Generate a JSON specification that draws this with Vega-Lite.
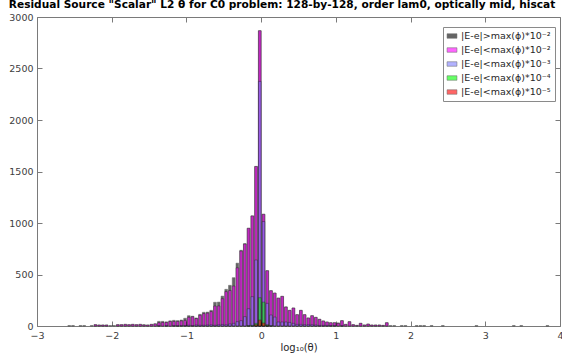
{
  "$schema": "https://vega.github.io/schema/vega-lite/v6.json",
  "width": 523,
  "height": 309,
  "autosize": {"type": "none"},
  "padding": {"left": 37, "top": 17, "right": 2, "bottom": 34},
  "background": "white",
  "title": {
    "text": "Residual Source \"Scalar\" L2 θ for C0 problem: 128-by-128, order lam0, optically mid, hiscat",
    "anchor": "start",
    "font": "DejaVu Sans",
    "fontSize": 10.6,
    "fontWeight": "bold",
    "color": "black",
    "offset": 1
  },
  "config": {
    "view": {"stroke": null},
    "font": "DejaVu Sans"
  },
  "datasets": {
    "bins": [
      {"x": -2.60, "x2": -2.55, "k": "|E-e|>max(ϕ)*10⁻²", "n": 5},
      {"x": -2.55, "x2": -2.50, "k": "|E-e|>max(ϕ)*10⁻²", "n": 5},
      {"x": -2.45, "x2": -2.40, "k": "|E-e|>max(ϕ)*10⁻²", "n": 5},
      {"x": -2.40, "x2": -2.35, "k": "|E-e|>max(ϕ)*10⁻²", "n": 5},
      {"x": -2.30, "x2": -2.25, "k": "|E-e|>max(ϕ)*10⁻²", "n": 5},
      {"x": -2.25, "x2": -2.20, "k": "|E-e|>max(ϕ)*10⁻²", "n": 13},
      {"x": -2.25, "x2": -2.20, "k": "|E-e|<max(ϕ)*10⁻²", "n": 13},
      {"x": -2.20, "x2": -2.15, "k": "|E-e|>max(ϕ)*10⁻²", "n": 10},
      {"x": -2.20, "x2": -2.15, "k": "|E-e|<max(ϕ)*10⁻²", "n": 10},
      {"x": -2.15, "x2": -2.10, "k": "|E-e|>max(ϕ)*10⁻²", "n": 10},
      {"x": -2.15, "x2": -2.10, "k": "|E-e|<max(ϕ)*10⁻²", "n": 10},
      {"x": -2.10, "x2": -2.05, "k": "|E-e|>max(ϕ)*10⁻²", "n": 10},
      {"x": -2.10, "x2": -2.05, "k": "|E-e|<max(ϕ)*10⁻²", "n": 10},
      {"x": -2.05, "x2": -2.00, "k": "|E-e|>max(ϕ)*10⁻²", "n": 5},
      {"x": -2.00, "x2": -1.95, "k": "|E-e|>max(ϕ)*10⁻²", "n": 5},
      {"x": -1.95, "x2": -1.90, "k": "|E-e|>max(ϕ)*10⁻²", "n": 13},
      {"x": -1.95, "x2": -1.90, "k": "|E-e|<max(ϕ)*10⁻²", "n": 13},
      {"x": -1.90, "x2": -1.85, "k": "|E-e|>max(ϕ)*10⁻²", "n": 13},
      {"x": -1.90, "x2": -1.85, "k": "|E-e|<max(ϕ)*10⁻²", "n": 13},
      {"x": -1.85, "x2": -1.80, "k": "|E-e|>max(ϕ)*10⁻²", "n": 16},
      {"x": -1.85, "x2": -1.80, "k": "|E-e|<max(ϕ)*10⁻²", "n": 16},
      {"x": -1.80, "x2": -1.75, "k": "|E-e|>max(ϕ)*10⁻²", "n": 13},
      {"x": -1.80, "x2": -1.75, "k": "|E-e|<max(ϕ)*10⁻²", "n": 13},
      {"x": -1.75, "x2": -1.70, "k": "|E-e|>max(ϕ)*10⁻²", "n": 16},
      {"x": -1.75, "x2": -1.70, "k": "|E-e|<max(ϕ)*10⁻²", "n": 16},
      {"x": -1.70, "x2": -1.65, "k": "|E-e|>max(ϕ)*10⁻²", "n": 13},
      {"x": -1.70, "x2": -1.65, "k": "|E-e|<max(ϕ)*10⁻²", "n": 13},
      {"x": -1.65, "x2": -1.60, "k": "|E-e|>max(ϕ)*10⁻²", "n": 16},
      {"x": -1.65, "x2": -1.60, "k": "|E-e|<max(ϕ)*10⁻²", "n": 16},
      {"x": -1.60, "x2": -1.55, "k": "|E-e|>max(ϕ)*10⁻²", "n": 13},
      {"x": -1.60, "x2": -1.55, "k": "|E-e|<max(ϕ)*10⁻²", "n": 10},
      {"x": -1.55, "x2": -1.50, "k": "|E-e|>max(ϕ)*10⁻²", "n": 10},
      {"x": -1.55, "x2": -1.50, "k": "|E-e|<max(ϕ)*10⁻²", "n": 10},
      {"x": -1.50, "x2": -1.45, "k": "|E-e|>max(ϕ)*10⁻²", "n": 16},
      {"x": -1.50, "x2": -1.45, "k": "|E-e|<max(ϕ)*10⁻²", "n": 16},
      {"x": -1.45, "x2": -1.40, "k": "|E-e|>max(ϕ)*10⁻²", "n": 22},
      {"x": -1.45, "x2": -1.40, "k": "|E-e|<max(ϕ)*10⁻²", "n": 20},
      {"x": -1.40, "x2": -1.35, "k": "|E-e|>max(ϕ)*10⁻²", "n": 45},
      {"x": -1.40, "x2": -1.35, "k": "|E-e|<max(ϕ)*10⁻²", "n": 32},
      {"x": -1.40, "x2": -1.35, "k": "|E-e|<max(ϕ)*10⁻³", "n": 3},
      {"x": -1.35, "x2": -1.30, "k": "|E-e|>max(ϕ)*10⁻²", "n": 45},
      {"x": -1.35, "x2": -1.30, "k": "|E-e|<max(ϕ)*10⁻²", "n": 35},
      {"x": -1.30, "x2": -1.25, "k": "|E-e|>max(ϕ)*10⁻²", "n": 40},
      {"x": -1.30, "x2": -1.25, "k": "|E-e|<max(ϕ)*10⁻²", "n": 35},
      {"x": -1.30, "x2": -1.25, "k": "|E-e|<max(ϕ)*10⁻³", "n": 5},
      {"x": -1.25, "x2": -1.20, "k": "|E-e|>max(ϕ)*10⁻²", "n": 50},
      {"x": -1.25, "x2": -1.20, "k": "|E-e|<max(ϕ)*10⁻²", "n": 45},
      {"x": -1.20, "x2": -1.15, "k": "|E-e|>max(ϕ)*10⁻²", "n": 55},
      {"x": -1.20, "x2": -1.15, "k": "|E-e|<max(ϕ)*10⁻²", "n": 45},
      {"x": -1.20, "x2": -1.15, "k": "|E-e|<max(ϕ)*10⁻³", "n": 5},
      {"x": -1.15, "x2": -1.10, "k": "|E-e|>max(ϕ)*10⁻²", "n": 52},
      {"x": -1.15, "x2": -1.10, "k": "|E-e|<max(ϕ)*10⁻²", "n": 45},
      {"x": -1.15, "x2": -1.10, "k": "|E-e|<max(ϕ)*10⁻³", "n": 3},
      {"x": -1.10, "x2": -1.05, "k": "|E-e|>max(ϕ)*10⁻²", "n": 58},
      {"x": -1.10, "x2": -1.05, "k": "|E-e|<max(ϕ)*10⁻²", "n": 50},
      {"x": -1.10, "x2": -1.05, "k": "|E-e|<max(ϕ)*10⁻³", "n": 5},
      {"x": -1.05, "x2": -1.00, "k": "|E-e|>max(ϕ)*10⁻²", "n": 75},
      {"x": -1.05, "x2": -1.00, "k": "|E-e|<max(ϕ)*10⁻²", "n": 55},
      {"x": -1.05, "x2": -1.00, "k": "|E-e|<max(ϕ)*10⁻³", "n": 5},
      {"x": -1.00, "x2": -0.95, "k": "|E-e|>max(ϕ)*10⁻²", "n": 100},
      {"x": -1.00, "x2": -0.95, "k": "|E-e|<max(ϕ)*10⁻²", "n": 85},
      {"x": -1.00, "x2": -0.95, "k": "|E-e|<max(ϕ)*10⁻³", "n": 8},
      {"x": -0.95, "x2": -0.90, "k": "|E-e|>max(ϕ)*10⁻²", "n": 95},
      {"x": -0.95, "x2": -0.90, "k": "|E-e|<max(ϕ)*10⁻²", "n": 90},
      {"x": -0.95, "x2": -0.90, "k": "|E-e|<max(ϕ)*10⁻³", "n": 5},
      {"x": -0.90, "x2": -0.85, "k": "|E-e|>max(ϕ)*10⁻²", "n": 78},
      {"x": -0.90, "x2": -0.85, "k": "|E-e|<max(ϕ)*10⁻²", "n": 72},
      {"x": -0.90, "x2": -0.85, "k": "|E-e|<max(ϕ)*10⁻³", "n": 10},
      {"x": -0.85, "x2": -0.80, "k": "|E-e|>max(ϕ)*10⁻²", "n": 113},
      {"x": -0.85, "x2": -0.80, "k": "|E-e|<max(ϕ)*10⁻²", "n": 105},
      {"x": -0.85, "x2": -0.80, "k": "|E-e|<max(ϕ)*10⁻³", "n": 8},
      {"x": -0.80, "x2": -0.75, "k": "|E-e|>max(ϕ)*10⁻²", "n": 133},
      {"x": -0.80, "x2": -0.75, "k": "|E-e|<max(ϕ)*10⁻²", "n": 120},
      {"x": -0.80, "x2": -0.75, "k": "|E-e|<max(ϕ)*10⁻³", "n": 8},
      {"x": -0.75, "x2": -0.70, "k": "|E-e|>max(ϕ)*10⁻²", "n": 135},
      {"x": -0.75, "x2": -0.70, "k": "|E-e|<max(ϕ)*10⁻²", "n": 125},
      {"x": -0.75, "x2": -0.70, "k": "|E-e|<max(ϕ)*10⁻³", "n": 10},
      {"x": -0.70, "x2": -0.65, "k": "|E-e|>max(ϕ)*10⁻²", "n": 152},
      {"x": -0.70, "x2": -0.65, "k": "|E-e|<max(ϕ)*10⁻²", "n": 140},
      {"x": -0.70, "x2": -0.65, "k": "|E-e|<max(ϕ)*10⁻³", "n": 12},
      {"x": -0.65, "x2": -0.60, "k": "|E-e|>max(ϕ)*10⁻²", "n": 230},
      {"x": -0.65, "x2": -0.60, "k": "|E-e|<max(ϕ)*10⁻²", "n": 194},
      {"x": -0.65, "x2": -0.60, "k": "|E-e|<max(ϕ)*10⁻³", "n": 8},
      {"x": -0.60, "x2": -0.55, "k": "|E-e|>max(ϕ)*10⁻²", "n": 232},
      {"x": -0.60, "x2": -0.55, "k": "|E-e|<max(ϕ)*10⁻²", "n": 195},
      {"x": -0.60, "x2": -0.55, "k": "|E-e|<max(ϕ)*10⁻³", "n": 12},
      {"x": -0.55, "x2": -0.50, "k": "|E-e|>max(ϕ)*10⁻²", "n": 290},
      {"x": -0.55, "x2": -0.50, "k": "|E-e|<max(ϕ)*10⁻²", "n": 265},
      {"x": -0.55, "x2": -0.50, "k": "|E-e|<max(ϕ)*10⁻³", "n": 15},
      {"x": -0.50, "x2": -0.45, "k": "|E-e|>max(ϕ)*10⁻²", "n": 356},
      {"x": -0.50, "x2": -0.45, "k": "|E-e|<max(ϕ)*10⁻²", "n": 334},
      {"x": -0.50, "x2": -0.45, "k": "|E-e|<max(ϕ)*10⁻³", "n": 12},
      {"x": -0.45, "x2": -0.40, "k": "|E-e|>max(ϕ)*10⁻²", "n": 395},
      {"x": -0.45, "x2": -0.40, "k": "|E-e|<max(ϕ)*10⁻²", "n": 345},
      {"x": -0.45, "x2": -0.40, "k": "|E-e|<max(ϕ)*10⁻³", "n": 20},
      {"x": -0.40, "x2": -0.35, "k": "|E-e|>max(ϕ)*10⁻²", "n": 469},
      {"x": -0.40, "x2": -0.35, "k": "|E-e|<max(ϕ)*10⁻²", "n": 388},
      {"x": -0.40, "x2": -0.35, "k": "|E-e|<max(ϕ)*10⁻³", "n": 26},
      {"x": -0.35, "x2": -0.30, "k": "|E-e|>max(ϕ)*10⁻²", "n": 610},
      {"x": -0.35, "x2": -0.30, "k": "|E-e|<max(ϕ)*10⁻²", "n": 565},
      {"x": -0.35, "x2": -0.30, "k": "|E-e|<max(ϕ)*10⁻³", "n": 42},
      {"x": -0.30, "x2": -0.25, "k": "|E-e|>max(ϕ)*10⁻²", "n": 735},
      {"x": -0.30, "x2": -0.25, "k": "|E-e|<max(ϕ)*10⁻²", "n": 728},
      {"x": -0.30, "x2": -0.25, "k": "|E-e|<max(ϕ)*10⁻³", "n": 52},
      {"x": -0.25, "x2": -0.20, "k": "|E-e|>max(ϕ)*10⁻²", "n": 800},
      {"x": -0.25, "x2": -0.20, "k": "|E-e|<max(ϕ)*10⁻²", "n": 796},
      {"x": -0.25, "x2": -0.20, "k": "|E-e|<max(ϕ)*10⁻³", "n": 91},
      {"x": -0.20, "x2": -0.15, "k": "|E-e|>max(ϕ)*10⁻²", "n": 949},
      {"x": -0.20, "x2": -0.15, "k": "|E-e|<max(ϕ)*10⁻²", "n": 949},
      {"x": -0.20, "x2": -0.15, "k": "|E-e|<max(ϕ)*10⁻³", "n": 168},
      {"x": -0.20, "x2": -0.15, "k": "|E-e|<max(ϕ)*10⁻⁴", "n": 5},
      {"x": -0.15, "x2": -0.10, "k": "|E-e|>max(ϕ)*10⁻²", "n": 1069},
      {"x": -0.15, "x2": -0.10, "k": "|E-e|<max(ϕ)*10⁻²", "n": 1069},
      {"x": -0.15, "x2": -0.10, "k": "|E-e|<max(ϕ)*10⁻³", "n": 285},
      {"x": -0.15, "x2": -0.10, "k": "|E-e|<max(ϕ)*10⁻⁴", "n": 6},
      {"x": -0.10, "x2": -0.05, "k": "|E-e|>max(ϕ)*10⁻²", "n": 1549},
      {"x": -0.10, "x2": -0.05, "k": "|E-e|<max(ϕ)*10⁻²", "n": 1549},
      {"x": -0.10, "x2": -0.05, "k": "|E-e|<max(ϕ)*10⁻³", "n": 641},
      {"x": -0.10, "x2": -0.05, "k": "|E-e|<max(ϕ)*10⁻⁴", "n": 26},
      {"x": -0.10, "x2": -0.05, "k": "|E-e|<max(ϕ)*10⁻⁵", "n": 13},
      {"x": -0.05, "x2": 0.00, "k": "|E-e|>max(ϕ)*10⁻²", "n": 2867},
      {"x": -0.05, "x2": 0.00, "k": "|E-e|<max(ϕ)*10⁻²", "n": 2867},
      {"x": -0.05, "x2": 0.00, "k": "|E-e|<max(ϕ)*10⁻³", "n": 2375},
      {"x": -0.05, "x2": 0.00, "k": "|E-e|<max(ϕ)*10⁻⁴", "n": 275},
      {"x": -0.05, "x2": 0.00, "k": "|E-e|<max(ϕ)*10⁻⁵", "n": 58},
      {"x": 0.00, "x2": 0.05, "k": "|E-e|>max(ϕ)*10⁻²", "n": 1085},
      {"x": 0.00, "x2": 0.05, "k": "|E-e|<max(ϕ)*10⁻²", "n": 1085},
      {"x": 0.00, "x2": 0.05, "k": "|E-e|<max(ϕ)*10⁻³", "n": 1014},
      {"x": 0.00, "x2": 0.05, "k": "|E-e|<max(ϕ)*10⁻⁴", "n": 232},
      {"x": 0.00, "x2": 0.05, "k": "|E-e|<max(ϕ)*10⁻⁵", "n": 29},
      {"x": 0.05, "x2": 0.10, "k": "|E-e|>max(ϕ)*10⁻²", "n": 537},
      {"x": 0.05, "x2": 0.10, "k": "|E-e|<max(ϕ)*10⁻²", "n": 537},
      {"x": 0.05, "x2": 0.10, "k": "|E-e|<max(ϕ)*10⁻³", "n": 220},
      {"x": 0.05, "x2": 0.10, "k": "|E-e|<max(ϕ)*10⁻⁴", "n": 13},
      {"x": 0.05, "x2": 0.10, "k": "|E-e|<max(ϕ)*10⁻⁵", "n": 3},
      {"x": 0.10, "x2": 0.15, "k": "|E-e|>max(ϕ)*10⁻²", "n": 343},
      {"x": 0.10, "x2": 0.15, "k": "|E-e|<max(ϕ)*10⁻²", "n": 343},
      {"x": 0.10, "x2": 0.15, "k": "|E-e|<max(ϕ)*10⁻³", "n": 107},
      {"x": 0.10, "x2": 0.15, "k": "|E-e|<max(ϕ)*10⁻⁴", "n": 3},
      {"x": 0.15, "x2": 0.20, "k": "|E-e|>max(ϕ)*10⁻²", "n": 320},
      {"x": 0.15, "x2": 0.20, "k": "|E-e|<max(ϕ)*10⁻²", "n": 320},
      {"x": 0.15, "x2": 0.20, "k": "|E-e|<max(ϕ)*10⁻³", "n": 87},
      {"x": 0.20, "x2": 0.25, "k": "|E-e|>max(ϕ)*10⁻²", "n": 271},
      {"x": 0.20, "x2": 0.25, "k": "|E-e|<max(ϕ)*10⁻²", "n": 271},
      {"x": 0.20, "x2": 0.25, "k": "|E-e|<max(ϕ)*10⁻³", "n": 39},
      {"x": 0.25, "x2": 0.30, "k": "|E-e|>max(ϕ)*10⁻²", "n": 288},
      {"x": 0.25, "x2": 0.30, "k": "|E-e|<max(ϕ)*10⁻²", "n": 288},
      {"x": 0.25, "x2": 0.30, "k": "|E-e|<max(ϕ)*10⁻³", "n": 39},
      {"x": 0.30, "x2": 0.35, "k": "|E-e|>max(ϕ)*10⁻²", "n": 186},
      {"x": 0.30, "x2": 0.35, "k": "|E-e|<max(ϕ)*10⁻²", "n": 184},
      {"x": 0.30, "x2": 0.35, "k": "|E-e|<max(ϕ)*10⁻³", "n": 39},
      {"x": 0.35, "x2": 0.40, "k": "|E-e|>max(ϕ)*10⁻²", "n": 152},
      {"x": 0.35, "x2": 0.40, "k": "|E-e|<max(ϕ)*10⁻²", "n": 152},
      {"x": 0.35, "x2": 0.40, "k": "|E-e|<max(ϕ)*10⁻³", "n": 35},
      {"x": 0.40, "x2": 0.45, "k": "|E-e|>max(ϕ)*10⁻²", "n": 175},
      {"x": 0.40, "x2": 0.45, "k": "|E-e|<max(ϕ)*10⁻²", "n": 175},
      {"x": 0.40, "x2": 0.45, "k": "|E-e|<max(ϕ)*10⁻³", "n": 26},
      {"x": 0.45, "x2": 0.50, "k": "|E-e|>max(ϕ)*10⁻²", "n": 110},
      {"x": 0.45, "x2": 0.50, "k": "|E-e|<max(ϕ)*10⁻²", "n": 110},
      {"x": 0.45, "x2": 0.50, "k": "|E-e|<max(ϕ)*10⁻³", "n": 16},
      {"x": 0.50, "x2": 0.55, "k": "|E-e|>max(ϕ)*10⁻²", "n": 152},
      {"x": 0.50, "x2": 0.55, "k": "|E-e|<max(ϕ)*10⁻²", "n": 152},
      {"x": 0.50, "x2": 0.55, "k": "|E-e|<max(ϕ)*10⁻³", "n": 16},
      {"x": 0.55, "x2": 0.60, "k": "|E-e|>max(ϕ)*10⁻²", "n": 110},
      {"x": 0.55, "x2": 0.60, "k": "|E-e|<max(ϕ)*10⁻²", "n": 110},
      {"x": 0.55, "x2": 0.60, "k": "|E-e|<max(ϕ)*10⁻³", "n": 13},
      {"x": 0.60, "x2": 0.65, "k": "|E-e|>max(ϕ)*10⁻²", "n": 78},
      {"x": 0.60, "x2": 0.65, "k": "|E-e|<max(ϕ)*10⁻²", "n": 78},
      {"x": 0.60, "x2": 0.65, "k": "|E-e|<max(ϕ)*10⁻³", "n": 13},
      {"x": 0.65, "x2": 0.70, "k": "|E-e|>max(ϕ)*10⁻²", "n": 100},
      {"x": 0.65, "x2": 0.70, "k": "|E-e|<max(ϕ)*10⁻²", "n": 100},
      {"x": 0.65, "x2": 0.70, "k": "|E-e|<max(ϕ)*10⁻³", "n": 13},
      {"x": 0.70, "x2": 0.75, "k": "|E-e|>max(ϕ)*10⁻²", "n": 84},
      {"x": 0.70, "x2": 0.75, "k": "|E-e|<max(ϕ)*10⁻²", "n": 84},
      {"x": 0.70, "x2": 0.75, "k": "|E-e|<max(ϕ)*10⁻³", "n": 10},
      {"x": 0.75, "x2": 0.80, "k": "|E-e|>max(ϕ)*10⁻²", "n": 65},
      {"x": 0.75, "x2": 0.80, "k": "|E-e|<max(ϕ)*10⁻²", "n": 65},
      {"x": 0.75, "x2": 0.80, "k": "|E-e|<max(ϕ)*10⁻³", "n": 6},
      {"x": 0.80, "x2": 0.85, "k": "|E-e|>max(ϕ)*10⁻²", "n": 49},
      {"x": 0.80, "x2": 0.85, "k": "|E-e|<max(ϕ)*10⁻²", "n": 49},
      {"x": 0.80, "x2": 0.85, "k": "|E-e|<max(ϕ)*10⁻³", "n": 6},
      {"x": 0.85, "x2": 0.90, "k": "|E-e|>max(ϕ)*10⁻²", "n": 39},
      {"x": 0.85, "x2": 0.90, "k": "|E-e|<max(ϕ)*10⁻²", "n": 39},
      {"x": 0.85, "x2": 0.90, "k": "|E-e|<max(ϕ)*10⁻³", "n": 6},
      {"x": 0.90, "x2": 0.95, "k": "|E-e|>max(ϕ)*10⁻²", "n": 32},
      {"x": 0.90, "x2": 0.95, "k": "|E-e|<max(ϕ)*10⁻²", "n": 32},
      {"x": 0.90, "x2": 0.95, "k": "|E-e|<max(ϕ)*10⁻³", "n": 5},
      {"x": 0.95, "x2": 1.00, "k": "|E-e|>max(ϕ)*10⁻²", "n": 32},
      {"x": 0.95, "x2": 1.00, "k": "|E-e|<max(ϕ)*10⁻²", "n": 32},
      {"x": 0.95, "x2": 1.00, "k": "|E-e|<max(ϕ)*10⁻³", "n": 5},
      {"x": 1.00, "x2": 1.05, "k": "|E-e|>max(ϕ)*10⁻²", "n": 30},
      {"x": 1.00, "x2": 1.05, "k": "|E-e|<max(ϕ)*10⁻²", "n": 26},
      {"x": 1.05, "x2": 1.10, "k": "|E-e|>max(ϕ)*10⁻²", "n": 52},
      {"x": 1.05, "x2": 1.10, "k": "|E-e|<max(ϕ)*10⁻²", "n": 52},
      {"x": 1.05, "x2": 1.10, "k": "|E-e|<max(ϕ)*10⁻³", "n": 3},
      {"x": 1.10, "x2": 1.15, "k": "|E-e|>max(ϕ)*10⁻²", "n": 16},
      {"x": 1.10, "x2": 1.15, "k": "|E-e|<max(ϕ)*10⁻²", "n": 16},
      {"x": 1.15, "x2": 1.20, "k": "|E-e|>max(ϕ)*10⁻²", "n": 42},
      {"x": 1.15, "x2": 1.20, "k": "|E-e|<max(ϕ)*10⁻²", "n": 42},
      {"x": 1.20, "x2": 1.25, "k": "|E-e|>max(ϕ)*10⁻²", "n": 13},
      {"x": 1.20, "x2": 1.25, "k": "|E-e|<max(ϕ)*10⁻²", "n": 13},
      {"x": 1.25, "x2": 1.30, "k": "|E-e|>max(ϕ)*10⁻²", "n": 6},
      {"x": 1.25, "x2": 1.30, "k": "|E-e|<max(ϕ)*10⁻²", "n": 6},
      {"x": 1.30, "x2": 1.35, "k": "|E-e|>max(ϕ)*10⁻²", "n": 26},
      {"x": 1.30, "x2": 1.35, "k": "|E-e|<max(ϕ)*10⁻²", "n": 26},
      {"x": 1.35, "x2": 1.40, "k": "|E-e|>max(ϕ)*10⁻²", "n": 10},
      {"x": 1.35, "x2": 1.40, "k": "|E-e|<max(ϕ)*10⁻²", "n": 10},
      {"x": 1.40, "x2": 1.45, "k": "|E-e|>max(ϕ)*10⁻²", "n": 19},
      {"x": 1.40, "x2": 1.45, "k": "|E-e|<max(ϕ)*10⁻²", "n": 19},
      {"x": 1.45, "x2": 1.50, "k": "|E-e|>max(ϕ)*10⁻²", "n": 10},
      {"x": 1.45, "x2": 1.50, "k": "|E-e|<max(ϕ)*10⁻²", "n": 10},
      {"x": 1.50, "x2": 1.55, "k": "|E-e|>max(ϕ)*10⁻²", "n": 10},
      {"x": 1.50, "x2": 1.55, "k": "|E-e|<max(ϕ)*10⁻²", "n": 10},
      {"x": 1.55, "x2": 1.60, "k": "|E-e|>max(ϕ)*10⁻²", "n": 10},
      {"x": 1.55, "x2": 1.60, "k": "|E-e|<max(ϕ)*10⁻²", "n": 10},
      {"x": 1.60, "x2": 1.65, "k": "|E-e|>max(ϕ)*10⁻²", "n": 6},
      {"x": 1.60, "x2": 1.65, "k": "|E-e|<max(ϕ)*10⁻²", "n": 6},
      {"x": 1.65, "x2": 1.70, "k": "|E-e|>max(ϕ)*10⁻²", "n": 32},
      {"x": 1.65, "x2": 1.70, "k": "|E-e|<max(ϕ)*10⁻²", "n": 32},
      {"x": 1.70, "x2": 1.75, "k": "|E-e|>max(ϕ)*10⁻²", "n": 5},
      {"x": 1.75, "x2": 1.80, "k": "|E-e|>max(ϕ)*10⁻²", "n": 5},
      {"x": 1.85, "x2": 1.90, "k": "|E-e|>max(ϕ)*10⁻²", "n": 5},
      {"x": 1.90, "x2": 1.95, "k": "|E-e|>max(ϕ)*10⁻²", "n": 5},
      {"x": 2.05, "x2": 2.10, "k": "|E-e|>max(ϕ)*10⁻²", "n": 5},
      {"x": 2.10, "x2": 2.15, "k": "|E-e|>max(ϕ)*10⁻²", "n": 5},
      {"x": 2.15, "x2": 2.20, "k": "|E-e|>max(ϕ)*10⁻²", "n": 5},
      {"x": 2.25, "x2": 2.30, "k": "|E-e|>max(ϕ)*10⁻²", "n": 5},
      {"x": 2.40, "x2": 2.45, "k": "|E-e|>max(ϕ)*10⁻²", "n": 5},
      {"x": 2.85, "x2": 2.90, "k": "|E-e|>max(ϕ)*10⁻²", "n": 5},
      {"x": 3.35, "x2": 3.40, "k": "|E-e|>max(ϕ)*10⁻²", "n": 5},
      {"x": 3.45, "x2": 3.50, "k": "|E-e|>max(ϕ)*10⁻²", "n": 5},
      {"x": 3.80, "x2": 3.85, "k": "|E-e|>max(ϕ)*10⁻²", "n": 5}
    ]
  },
  "data": {"name": "bins"},
  "layer": [
    {
      "mark": {"type": "bar", "opacity": 0.6, "stroke": "black", "strokeWidth": 0.5},
      "encoding": {
        "x": {
          "field": "x", "type": "quantitative", "bin": {"binned": true},
          "scale": {"domain": [-3, 4], "nice": false, "zero": false},
          "axis": {
            "values": [-3, -2, -1, 0, 1, 2, 3, 4],
            "format": "d",
            "title": "log₁₀(θ)",
            "titleFont": "DejaVu Sans", "titleFontSize": 10, "titleFontWeight": "normal",
            "titleColor": "#262626", "titlePadding": 3,
            "labelFont": "DejaVu Sans", "labelFontSize": 9.5, "labelColor": "#404040",
            "labelPadding": 9, "tickSize": -5, "tickColor": "#7a7a7a",
            "domainColor": "#7a7a7a", "grid": false, "labelFlush": false
          }
        },
        "x2": {"field": "x2"},
        "y": {
          "field": "n", "type": "quantitative", "stack": null,
          "scale": {"domain": [0, 3000], "nice": false},
          "axis": {
            "values": [0, 500, 1000, 1500, 2000, 2500, 3000],
            "format": "d",
            "title": null,
            "labelFont": "DejaVu Sans", "labelFontSize": 9.5, "labelColor": "#404040",
            "labelPadding": 9, "tickSize": -5, "tickColor": "#7a7a7a",
            "domainColor": "#7a7a7a", "grid": false, "labelFlush": false
          }
        },
        "color": {
          "field": "k", "type": "nominal",
          "scale": {
            "domain": ["|E-e|>max(ϕ)*10⁻²", "|E-e|<max(ϕ)*10⁻²", "|E-e|<max(ϕ)*10⁻³", "|E-e|<max(ϕ)*10⁻⁴", "|E-e|<max(ϕ)*10⁻⁵"],
            "range": ["#000000", "#ff00ff", "#8080ff", "#00ff00", "#ff0000"]
          },
          "legend": {
            "title": null,
            "orient": "none",
            "legendX": 406,
            "legendY": 10,
            "padding": 4,
            "strokeColor": "#8a8a8a",
            "fillColor": "white",
            "symbolType": "M-1.1,-0.5H1.1V0.5H-1.1Z",
            "symbolSize": 81,
            "symbolOpacity": 0.6,
            "symbolStrokeColor": "black",
            "symbolStrokeWidth": 0.5,
            "labelFont": "DejaVu Sans",
            "labelFontSize": 9.5,
            "labelColor": "#262626",
            "labelOffset": 4,
            "labelLimit": 200,
            "rowPadding": 4
          }
        }
      }
    },
    {
      "mark": {"type": "point", "opacity": 0},
      "encoding": {
        "x": {
          "field": "x", "type": "quantitative",
          "axis": {
            "orient": "top", "values": [-3, -2, -1, 0, 1, 2, 3, 4],
            "labels": false, "title": null, "tickSize": -5, "tickColor": "#7a7a7a",
            "domainColor": "#7a7a7a", "grid": false
          }
        },
        "y": {
          "field": "n", "type": "quantitative",
          "axis": {
            "orient": "right", "values": [0, 500, 1000, 1500, 2000, 2500, 3000],
            "labels": false, "title": null, "tickSize": -5, "tickColor": "#7a7a7a",
            "domainColor": "#7a7a7a", "grid": false
          }
        }
      }
    }
  ],
  "resolve": {"axis": {"x": "independent", "y": "independent"}}
}
